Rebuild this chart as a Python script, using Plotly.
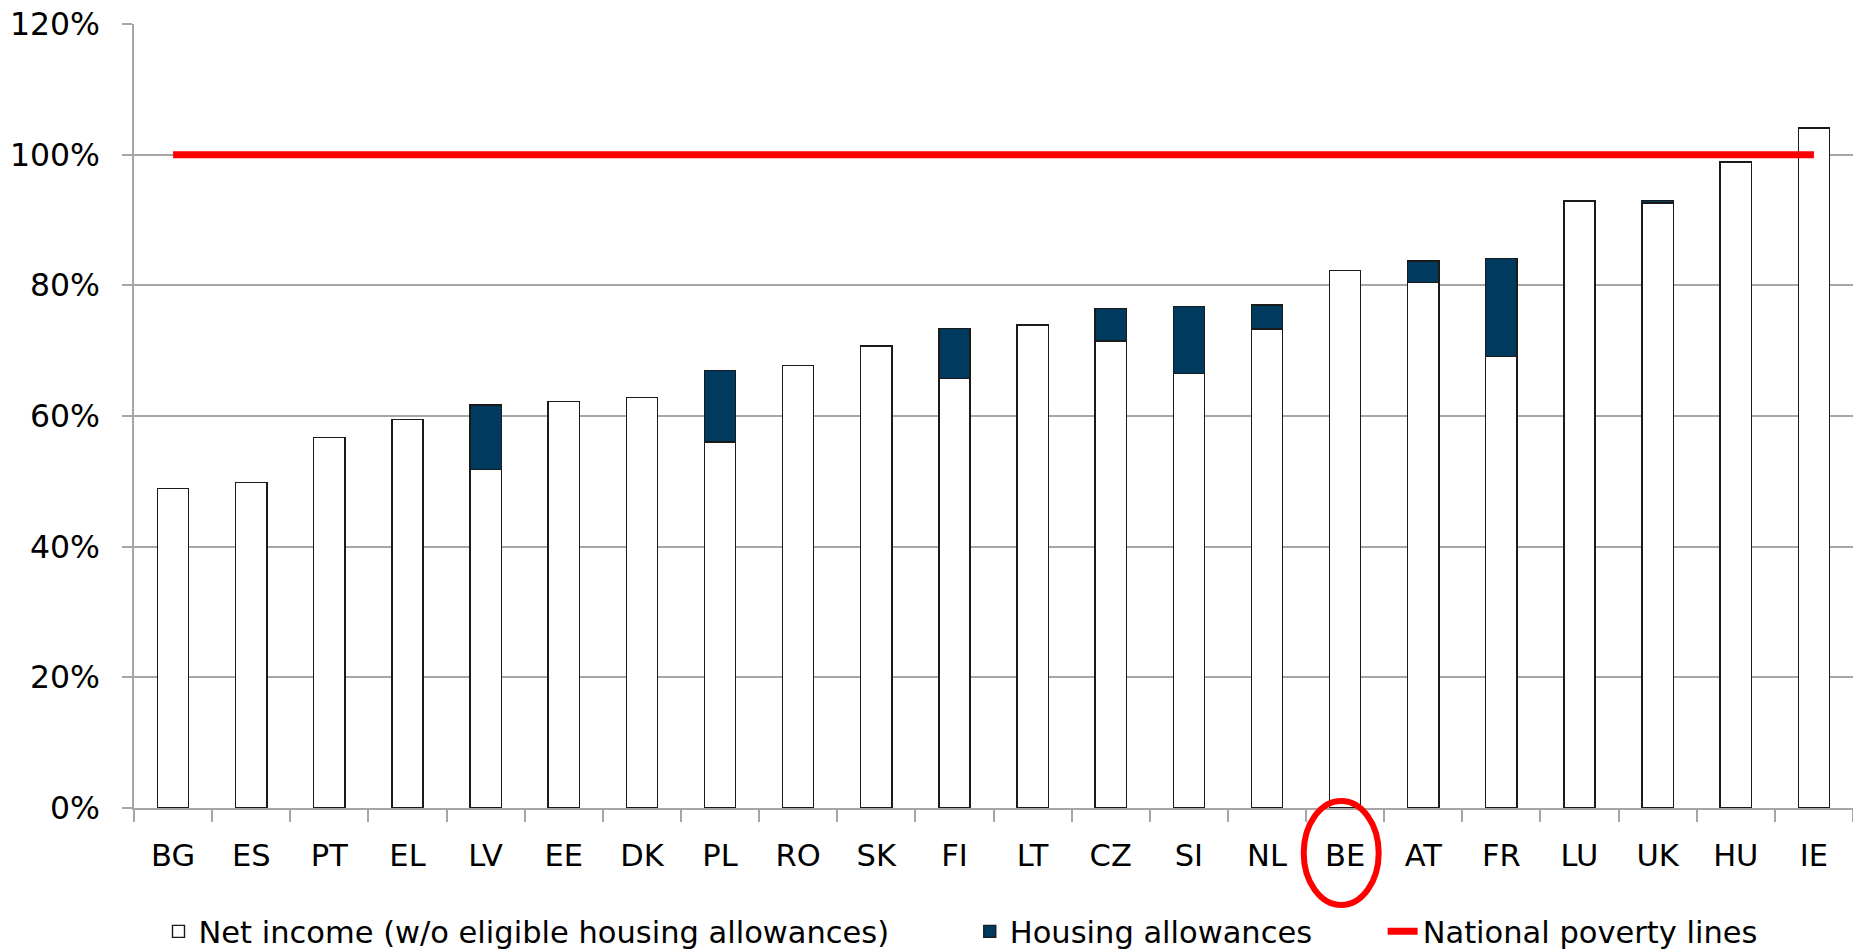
import plotly.graph_objects as go

countries = ["BG", "ES", "PT", "EL", "LV", "EE", "DK", "PL", "RO", "SK", "FI",
             "LT", "CZ", "SI", "NL", "BE", "AT", "FR", "LU", "UK", "HU", "IE"]
net_income = [0.489, 0.498, 0.567, 0.595, 0.518, 0.622, 0.628, 0.560, 0.677, 0.707, 0.657,
              0.739, 0.715, 0.665, 0.733, 0.823, 0.804, 0.691, 0.929, 0.926, 0.989, 1.041]
housing = [0, 0, 0, 0, 0.099, 0, 0, 0.110, 0, 0, 0.077,
           0, 0.050, 0.103, 0.037, 0, 0.033, 0.150, 0, 0.004, 0, 0]
poverty_line = [1.0] * len(countries)
y_ticks = [0, 0.2, 0.4, 0.6, 0.8, 1.0, 1.2]
y_tick_text = ["0%", "20%", "40%", "60%", "80%", "100%", "120%"]

FONT = "DejaVu Sans"
GRID = "#a6a6a6"

fig = go.Figure()
fig.add_trace(go.Bar(
    x=countries, y=net_income, name="Net income (w/o eligible housing allowances)",
    marker=dict(color="white", line=dict(color="#1a1a1a", width=1.4)),
    legend="legend"))
fig.add_trace(go.Bar(
    x=countries, y=housing, name="Housing allowances",
    marker=dict(color="#003a5e", line=dict(color="#1a1a1a", width=1.4)),
    legend="legend2"))
fig.add_trace(go.Scatter(
    x=countries, y=poverty_line, name="National poverty lines", mode="lines",
    line=dict(color="#ff0000", width=7), legend="legend3"))

# body margin is removed by the post script, so the figure sits at (0, 0)
W, H = 1853, 990
ml, mr, mt, mb = 133.5, 0, 24, 182
pw = W - ml - mr
ph = H - mt - mb
plot_left = ml
plot_bottom = H - mb

def lx(px):
    return (px - plot_left) / pw

def py(px):
    return (plot_bottom - px) / ph

leg_common = dict(orientation="h", yanchor="middle", y=py(931.5), xanchor="left",
                  font=dict(family=FONT, size=30.5, color="black"),
                  bgcolor="rgba(0,0,0,0)", borderwidth=0)

fig.update_layout(
    template="none",
    width=W, height=H,
    margin=dict(l=ml, r=mr, t=mt, b=mb, pad=0, autoexpand=False),
    paper_bgcolor="white", plot_bgcolor="white",
    barmode="stack", bargap=0.6,
    font=dict(family=FONT, size=30.5, color="black"),
    showlegend=True,
    legend=dict(x=lx(158), **leg_common),
    legend2=dict(x=lx(969.5), **leg_common),
    legend3=dict(x=lx(1382.5), **leg_common),
    xaxis=dict(
        type="category", tickson="boundaries", ticks="outside", ticklen=12,
        tickcolor=GRID, tickwidth=1.5, showline=True, linecolor=GRID, linewidth=1.5,
        showgrid=False, tickfont=dict(family=FONT, size=30.5, color="black"),
        ticklabelstandoff=20, automargin=False,
        range=[-0.5, len(countries) - 0.5]),
    yaxis=dict(
        range=[0, 1.2], tickvals=y_ticks, ticktext=y_tick_text,
        showgrid=True, gridcolor=GRID, gridwidth=1.5,
        ticks="outside", ticklen=10, tickcolor=GRID, tickwidth=1.5,
        showline=True, linecolor=GRID, linewidth=1.5, zeroline=False,
        ticklabelstandoff=16, ticklabeloverflow="allow", automargin=False,
        tickfont=dict(family=FONT, size=31.5, color="black")),
)

# red ellipse highlighting BE
be = countries.index("BE")
fig.add_shape(type="circle", xref="x", yref="paper",
              x0=be - 0.53, x1=be + 0.43,
              y0=py(905), y1=py(801),
              line=dict(color="#ff0000", width=6))

fig.write_html("out.html",
               config={"displayModeBar": False},
               post_script="document.body.style.margin='0px';document.body.style.overflow='hidden';")
